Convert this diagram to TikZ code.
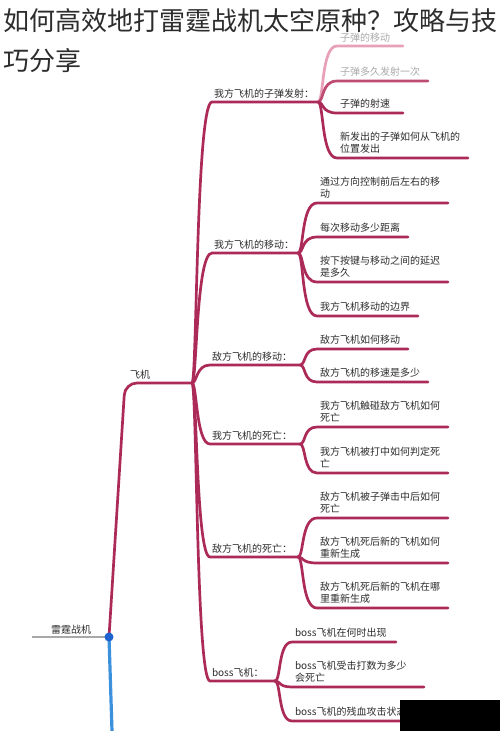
\documentclass[tikz,border=0pt]{standalone}
\usepackage{fontspec}
\setmainfont{Noto Sans CJK SC}
\usetikzlibrary{calc}
\definecolor{mm}{RGB}{172,42,88}
\definecolor{mmfade}{RGB}{232,160,185}
\definecolor{mmmid}{RGB}{190,75,115}
\definecolor{txt}{RGB}{45,45,45}
\definecolor{txtfade}{RGB}{170,170,170}
\definecolor{rootgrey}{RGB}{168,168,168}
\definecolor{bluel}{RGB}{60,145,220}
\definecolor{blued}{RGB}{30,98,208}
\newcommand{\mmleaf}[8]{%
  \coordinate (#1s) at (#4,#3);
  \coordinate (#1e) at (#5,#3);
  \draw[mmline,#6] (#2) .. controls ($(#2)+(6,0)$) and ($(#2 |- #1s)+(3,0)$) .. (#1s) -- (#1e);
  \node[leaftext,text=#8] (#1) at ($(#1s)+(3,-6)$) {#7};
}
\newcommand{\mmbranch}[5]{%
  \coordinate (#1s) at (#3,#2);
  \coordinate (#1j) at (#4,#2);
  \draw[mmline] (rj) .. controls ($(rj)+(5,0)$) and ($(rj |- #1s)+(4,0)$) .. (#1s) -- (#1j);
  \node[leaftext] (#1) at ($(#1s)+(2,-5)$) {#5};
}
\begin{document}
\begin{tikzpicture}[x=1pt,y=-1pt,
  mmline/.style={draw=mm,line width=2.7pt,line cap=round},
  leaftext/.style={anchor=south west,inner sep=0pt,outer sep=0pt,text depth=0pt,
    align=left,text=txt,font=\fontsize{10}{11.2}\selectfont},
  titletext/.style={anchor=base west,inner sep=0pt,text=txt,font=\fontsize{26}{30}\selectfont}]
\useasboundingbox (0,0) rectangle (500,731);
\fill[white] (0,0) rectangle (500,731);
% title
\node[titletext] (t1) at (3,30) {如何高效地打雷霆战机太空原种？攻略与技};
\node[titletext] (t2) at (3,70) {巧分享};
% root
\coordinate (root) at (109,637);
\coordinate (rootl) at (32,637);
\coordinate (blueend) at (112,731);
\coordinate (fc) at (125,383);
\coordinate (rj) at (192,383);
\draw[draw=rootgrey,line width=2.5pt] (rootl) -- (root);
\node[leaftext] (rootlabel) at (51,633) {雷霆战机};
\draw[draw=bluel,line width=3.2pt] (root) -- (blueend);
\draw[mmline,rounded corners=12pt] (root) -- (fc) -- (rj);
\node[leaftext] (plane) at (130,378) {飞机};
\fill[blued] (root) circle (4.5);
% branches
\mmbranch{B1}{102}{212}{318}{我方飞机的子弹发射：}
\mmbranch{B2}{253}{212}{298}{我方飞机的移动：}
\mmbranch{B3}{365}{210}{300}{敌方飞机的移动：}
\mmbranch{B4}{444}{210}{300}{我方飞机的死亡：}
\mmbranch{B5}{557}{210}{298}{敌方飞机的死亡：}
\mmbranch{B6}{681}{210}{275}{boss飞机：}
% group 1
\coordinate (a1s) at (337,46);
\coordinate (a1e) at (403,46);
\draw[mmline,draw=mmfade] (B1j) .. controls ($(B1j)+(6,0)$) and ($(B1j |- a1s)+(3,0)$) .. (a1s) -- (a1e);
\node[leaftext,text=txtfade] (a1) at ($(a1s)+(3,-4.5)$) {子弹的移动};
\mmleaf{a2}{B1j}{81}{337}{428}{draw=mmmid}{子弹多久发射一次}{txtfade}
\mmleaf{a3}{B1j}{113}{337}{403}{}{子弹的射速}{txt}
\mmleaf{a4}{B1j}{158}{337}{468}{}{新发出的子弹如何从飞机的\\位置发出}{txt}
% group 2
\mmleaf{b1}{B2j}{203}{317}{448}{}{通过方向控制前后左右的移\\动}{txt}
\mmleaf{b2}{B2j}{237}{317}{408}{}{每次移动多少距离}{txt}
\mmleaf{b3}{B2j}{282}{317}{448}{}{按下按键与移动之间的延迟\\是多久}{txt}
\mmleaf{b4}{B2j}{316}{317}{418}{}{我方飞机移动的边界}{txt}
% group 3
\mmleaf{c1}{B3j}{349}{317}{408}{}{敌方飞机如何移动}{txt}
\mmleaf{c2}{B3j}{382}{317}{428}{}{敌方飞机的移速是多少}{txt}
% group 4
\mmleaf{d1}{B4j}{427}{317}{448}{}{我方飞机触碰敌方飞机如何\\死亡}{txt}
\mmleaf{d2}{B4j}{473}{317}{448}{}{我方飞机被打中如何判定死\\亡}{txt}
% group 5
\mmleaf{e1}{B5j}{518}{317}{448}{}{敌方飞机被子弹击中后如何\\死亡}{txt}
\mmleaf{e2}{B5j}{563}{317}{448}{}{敌方飞机死后新的飞机如何\\重新生成}{txt}
\mmleaf{e3}{B5j}{608}{317}{448}{}{敌方飞机死后新的飞机在哪\\里重新生成}{txt}
% group 6
\mmleaf{f1}{B6j}{642}{292}{396}{}{boss飞机在何时出现}{txt}
\mmleaf{f2}{B6j}{687}{292}{424}{}{boss飞机受击打数为多少\\会死亡}{txt}
\mmleaf{f3}{B6j}{721}{292}{470}{}{boss飞机的残血攻击状态}{txt}
% cover box
\fill[black] (400,700) rectangle (500,731);
\end{tikzpicture}
\end{document}
